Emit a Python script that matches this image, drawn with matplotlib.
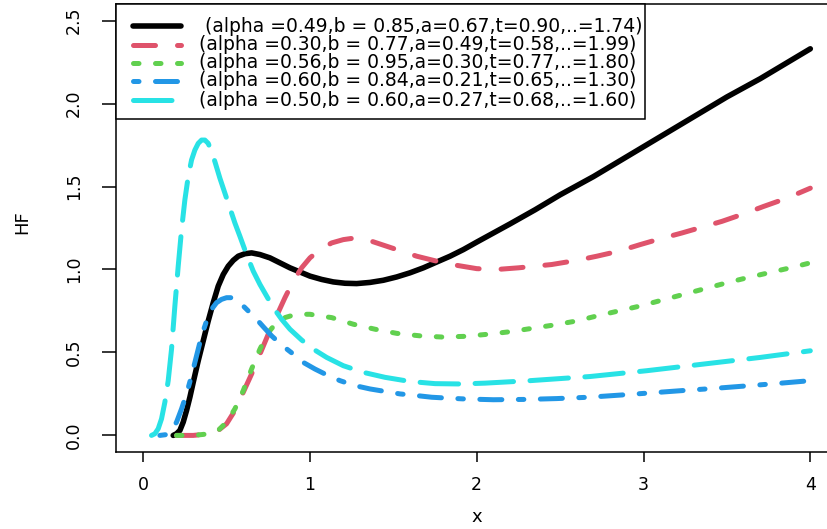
import numpy as np
import matplotlib
matplotlib.use("Agg")
import matplotlib.pyplot as plt
from matplotlib.lines import Line2D
from matplotlib.patches import Rectangle

# values
x_black = [0.18, 0.20, 0.22, 0.24, 0.26, 0.28, 0.30, 0.33, 0.36, 0.39, 0.42, 0.45, 0.48, 0.51,
           0.54, 0.57, 0.61, 0.65, 0.70, 0.76, 0.82, 0.88, 0.94, 1.00, 1.07, 1.14, 1.21, 1.28,
           1.36, 1.44, 1.52, 1.60, 1.68, 1.76, 1.84, 1.92, 2.00, 2.10, 2.20, 2.35, 2.50, 2.70,
           2.90, 3.10, 3.30, 3.50, 3.70, 3.85, 4.00]
y_black = [0.00, 0.01, 0.03, 0.08, 0.15, 0.23, 0.32, 0.45, 0.57, 0.69, 0.80, 0.90, 0.97, 1.02,
           1.055, 1.08, 1.095, 1.10, 1.09, 1.07, 1.04, 1.01, 0.985, 0.96, 0.94, 0.925, 0.917, 0.915,
           0.922, 0.935, 0.955, 0.98, 1.01, 1.045, 1.08, 1.12, 1.165, 1.22, 1.275, 1.36, 1.45, 1.56,
           1.68, 1.80, 1.92, 2.04, 2.15, 2.24, 2.33]

x_red = [0.20, 0.30, 0.40, 0.45, 0.50, 0.55, 0.60, 0.65, 0.70, 0.75, 0.80, 0.85, 0.90, 0.95,
         1.00, 1.06, 1.13, 1.20, 1.27, 1.34, 1.40, 1.52, 1.64, 1.76, 1.88, 2.00, 2.12, 2.25,
         2.45, 2.60, 2.72, 2.85, 2.98, 3.10, 3.23, 3.35, 3.47, 3.60, 3.72, 3.86, 4.00]
y_red = [0.00, 0.00, 0.01, 0.03, 0.07, 0.15, 0.26, 0.37, 0.49, 0.61, 0.72, 0.83, 0.93, 1.01,
         1.07, 1.12, 1.16, 1.18, 1.19, 1.18, 1.16, 1.12, 1.08, 1.05, 1.025, 1.005, 1.00, 1.01,
         1.03, 1.055, 1.08, 1.11, 1.15, 1.185, 1.22, 1.255, 1.29, 1.335, 1.38, 1.43, 1.49]

x_green = [0.20, 0.30, 0.40, 0.45, 0.50, 0.55, 0.60, 0.65, 0.70, 0.75, 0.80, 0.85, 0.90, 0.95,
           1.00, 1.06, 1.13, 1.26, 1.39, 1.52, 1.66, 1.79, 1.93, 2.07, 2.20, 2.33, 2.46, 2.60,
           2.72, 2.85, 2.98, 3.11, 3.24, 3.37, 3.50, 3.62, 3.75, 3.88, 4.00]
y_green = [0.00, 0.00, 0.01, 0.03, 0.08, 0.16, 0.27, 0.40, 0.52, 0.62, 0.68, 0.71, 0.725, 0.73,
           0.73, 0.72, 0.71, 0.67, 0.64, 0.615, 0.60, 0.593, 0.597, 0.61, 0.625, 0.645, 0.665, 0.69,
           0.72, 0.75, 0.78, 0.815, 0.85, 0.885, 0.92, 0.95, 0.98, 1.01, 1.04]

x_blue = [0.10, 0.14, 0.17, 0.20, 0.23, 0.26, 0.29, 0.32, 0.35, 0.38, 0.41, 0.44, 0.47, 0.50,
          0.53, 0.56, 0.60, 0.64, 0.68, 0.72, 0.77, 0.83, 0.90, 0.96, 1.03, 1.10, 1.18, 1.27,
          1.36, 1.45, 1.54, 1.64, 1.73, 1.82, 1.92, 2.10, 2.30, 2.48, 2.67, 2.86, 3.04, 3.23,
          3.42, 3.60, 3.79, 4.00]
y_blue = [0.00, 0.005, 0.03, 0.08, 0.16, 0.25, 0.36, 0.48, 0.60, 0.69, 0.76, 0.80, 0.82, 0.83,
          0.83, 0.815, 0.78, 0.74, 0.70, 0.655, 0.60, 0.545, 0.49, 0.44, 0.40, 0.365, 0.33, 0.30,
          0.28, 0.265, 0.25, 0.24, 0.23, 0.225, 0.22, 0.215, 0.217, 0.222, 0.23, 0.243, 0.256, 0.27,
          0.283, 0.297, 0.312, 0.33]

x_cyan = [0.05, 0.07, 0.09, 0.11, 0.13, 0.15, 0.17, 0.19, 0.21, 0.23, 0.25, 0.27, 0.29, 0.31,
          0.33, 0.35, 0.37, 0.39, 0.41, 0.43, 0.46, 0.49, 0.52, 0.55, 0.58, 0.62, 0.66, 0.70,
          0.74, 0.78, 0.83, 0.88, 0.95, 1.02, 1.10, 1.20, 1.32, 1.45, 1.60, 1.75, 1.90, 2.05,
          2.32, 2.68, 3.02, 3.36, 3.70, 4.00]
y_cyan = [0.00, 0.01, 0.04, 0.10, 0.20, 0.33, 0.52, 0.78, 1.02, 1.24, 1.42, 1.56, 1.66, 1.72,
          1.76, 1.78, 1.78, 1.76, 1.71, 1.65, 1.55, 1.46, 1.37, 1.28, 1.20, 1.09, 0.99, 0.91,
          0.84, 0.77, 0.70, 0.64, 0.575, 0.52, 0.47, 0.42, 0.38, 0.35, 0.325, 0.312, 0.31, 0.315,
          0.33, 0.355, 0.39, 0.43, 0.47, 0.51]

labels = [" (alpha =0.49,b = 0.85,a=0.67,t=0.90,..=1.74)",
          "(alpha =0.30,b = 0.77,a=0.49,t=0.58,..=1.99)",
          "(alpha =0.56,b = 0.95,a=0.30,t=0.77,..=1.80)",
          "(alpha =0.60,b = 0.84,a=0.21,t=0.65,..=1.30)",
          "(alpha =0.50,b = 0.60,a=0.27,t=0.68,..=1.60)"]

xticks = [0, 1, 2, 3, 4]
yticks = [0.0, 0.5, 1.0, 1.5, 2.0, 2.5]

colors = ["#000000", "#DF536B", "#61D04F", "#2297E6", "#28E2E5"]
dashes = [None, (4.4, 4.4), (1.1, 3.3), (1.1, 3.3, 4.4, 3.3), (7.7, 3.3)]
widths = [4.0, 3.6, 3.6, 3.6, 3.6]

plt.rcParams['font.family'] = ['DejaVu Sans']

W, H = 828, 529
fig = plt.figure(figsize=(W / 100, H / 100), dpi=100)
ax = fig.add_axes([116.5 / W, (H - 452) / H, (837 - 116.5) / W, (452 - 4) / H])

series = [(x_black, y_black), (x_red, y_red), (x_green, y_green),
          (x_blue, y_blue), (x_cyan, y_cyan)]


def style(i):
    kw = dict(color=colors[i], lw=widths[i], solid_capstyle='round',
              dash_capstyle='round', solid_joinstyle='round', dash_joinstyle='round')
    if dashes[i] is not None:
        kw['linestyle'] = (0, dashes[i])
    return kw


for i, (xs, ys) in enumerate(series):
    ax.plot(xs, ys, **style(i))

ax.set_xlim(-0.16, 4.16)
ax.set_ylim(-0.1, 2.6)
ax.set_xticks(xticks)
ax.set_xticklabels([str(t) for t in xticks])
ax.set_yticks(yticks)
ax.set_yticklabels([f"{t:.1f}" for t in yticks], rotation=90, va='center')
ax.tick_params(axis='x', length=7.5, width=1.1, labelsize=12.5, pad=10)
ax.tick_params(axis='y', length=10, width=1.1, labelsize=12.5, pad=14)
for s in ax.spines.values():
    s.set_linewidth(1.1)

fig.text(477 / W, 1 - 517 / H, "x", fontsize=13, ha='center', va='center')
fig.text(22 / W, 1 - 222 / H, "HF", fontsize=13, ha='center', va='center', rotation=90)

# legend drawn by hand, top left of the plot region
fig.patches.append(Rectangle((116.5 / W, 1 - 119 / H), (645 - 116.5) / W, (119 - 4) / H,
                             transform=fig.transFigure, fill=True, facecolor='white',
                             edgecolor='black', lw=1.1, zorder=5))
rows = [26, 45, 63, 81, 100]
for i, r in enumerate(rows):
    yy = 1 - r / H
    fig.lines.append(Line2D([133 / W, 181 / W], [yy, yy], transform=fig.transFigure,
                            zorder=6, **style(i)))
    fig.text(199 / W, yy, labels[i], fontsize=13.5, ha='left', va='center', zorder=7)

fig.savefig("out.png", dpi=100)
